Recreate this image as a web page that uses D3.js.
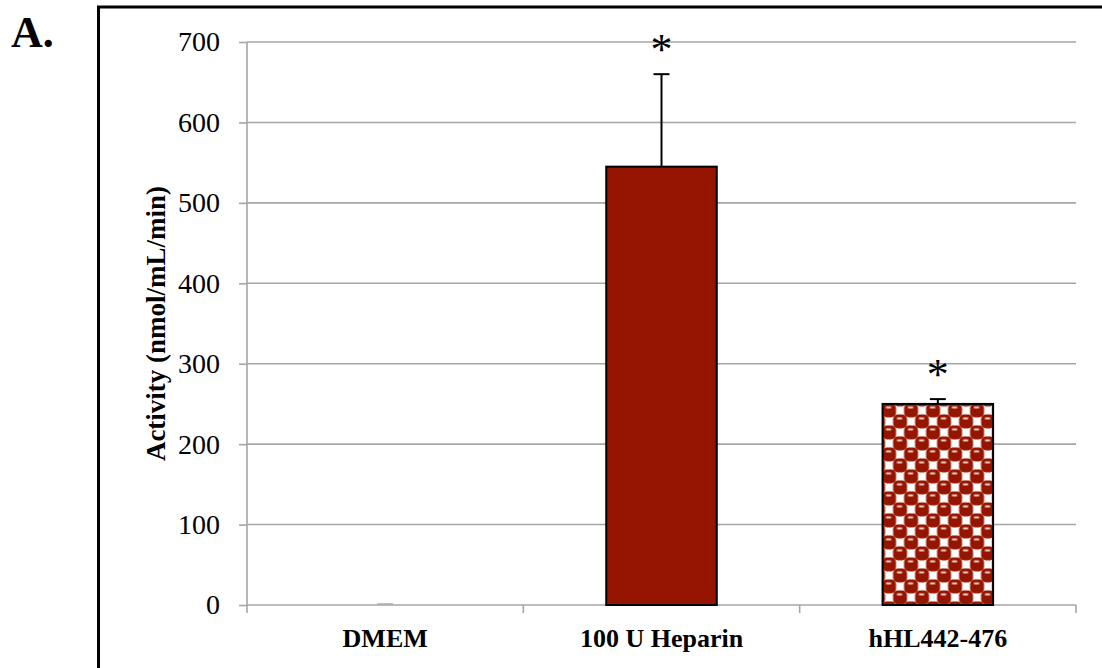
<!DOCTYPE html>
<html>
<head>
<meta charset="utf-8">
<script src="https://cdn.jsdelivr.net/npm/d3@7/dist/d3.min.js"></script>
<style>
  html, body { margin: 0; padding: 0; background: #fff; }
  svg { display: block; }
  text { font-family: 'Liberation Serif', 'Times New Roman', serif; }
</style>
</head>
<body>
<svg id="chart" width="1102" height="668"></svg>
<script>
// Lipase activity by treatment
const categories = ["DMEM", "100 U Heparin", "hHL442-476"];
const activity   = [0, 545, 250];        // nmol/mL/min
const errorUp    = [1, 115, 6];          // upper error bar
const significant = [false, true, true]; // asterisk markers
const yTicks     = [0, 100, 200, 300, 400, 500, 600, 700];
const fills      = ["#951500", "#951500", "url(#checker)"];

const svg = d3.select("#chart");
const margin = { left: 247, right: 1076, top: 42, bottom: 605 };

const x = d3.scaleBand()
  .domain(categories)
  .range([margin.left, margin.right])
  .paddingInner(0.6)
  .paddingOuter(0.3);

const y = d3.scaleLinear()
  .domain([0, 700])
  .range([margin.bottom, margin.top]);

// checkered ball fill for the peptide bar
const defs = svg.append("defs");
const pat = defs.append("pattern")
  .attr("id", "checker")
  .attr("patternUnits", "userSpaceOnUse")
  .attr("x", x("hHL442-476") + 1)
  .attr("y", y(250) + 1)
  .attr("width", 22).attr("height", 22);
pat.append("rect").attr("width", 22).attr("height", 22).attr("fill", "#fff");
[[0, 0], [11, 11], [22, 0], [0, 22], [-11, 11], [11, -11], [22, 22], [33, 11], [11, 33]].forEach(([cx, cy]) => {
  pat.append("rect")
    .attr("x", cx - 1.5).attr("y", cy - 1.5)
    .attr("width", 14).attr("height", 14)
    .attr("rx", 5)
    .attr("fill", "#951500");
  pat.append("rect")
    .attr("x", cx + 2.5).attr("y", cy + 1.5)
    .attr("width", 5).attr("height", 2)
    .attr("fill", "#f0d2ca");
});

// outer frame
svg.append("rect")
  .attr("x", 98.5).attr("y", 7)
  .attr("width", 1200).attr("height", 800)
  .attr("fill", "none")
  .attr("stroke", "#000")
  .attr("stroke-width", 3);

// panel letter
svg.append("text")
  .attr("x", 11).attr("y", 47)
  .attr("font-weight", "bold")
  .attr("font-size", 44)
  .text("A.");

// gridlines
svg.append("g")
  .selectAll("line")
  .data(yTicks.filter(t => t > 0))
  .join("line")
  .attr("x1", margin.left).attr("x2", margin.right)
  .attr("y1", d => y(d)).attr("y2", d => y(d))
  .attr("stroke", "#a6a6a6")
  .attr("stroke-width", 1.6);

// y axis
const yAxis = svg.append("g")
  .attr("transform", `translate(${margin.left},0)`)
  .call(d3.axisLeft(y).tickValues(yTicks).tickSize(8).tickPadding(19).tickFormat(d3.format("d")));
yAxis.select(".domain").attr("stroke", "#a6a6a6").attr("stroke-width", 1.6).attr("d", `M-0,${y(700)}V${y(0)}`);
yAxis.selectAll(".tick line").attr("stroke", "#a6a6a6").attr("stroke-width", 1.6);
yAxis.selectAll(".tick text")
  .attr("font-family", null)
  .attr("font-size", 28)
  .attr("fill", "#000");

// x axis with boundary ticks between categories
const xAxisG = svg.append("g");
xAxisG.append("line")
  .attr("x1", margin.left).attr("x2", margin.right)
  .attr("y1", y(0)).attr("y2", y(0))
  .attr("stroke", "#a6a6a6").attr("stroke-width", 1.6);
const bounds = d3.range(categories.length + 1).map(i => margin.left + i * (margin.right - margin.left) / categories.length);
xAxisG.selectAll("line.tk")
  .data(bounds)
  .join("line")
  .attr("class", "tk")
  .attr("x1", d => d).attr("x2", d => d)
  .attr("y1", y(0)).attr("y2", y(0) + 8)
  .attr("stroke", "#a6a6a6").attr("stroke-width", 1.6);

xAxisG.selectAll("text")
  .data(categories)
  .join("text")
  .attr("x", d => x(d) + x.bandwidth() / 2)
  .attr("y", 647)
  .attr("text-anchor", "middle")
  .attr("font-weight", "bold")
  .attr("font-size", 26)
  .text(d => d);

// y axis title
svg.append("text")
  .attr("transform", `translate(165,${(y(0) + y(700)) / 2}) rotate(-90)`)
  .attr("text-anchor", "middle")
  .attr("font-weight", "bold")
  .attr("font-size", 27)
  .text("Activity (nmol/mL/min)");

// bars
const rows = categories.map((c, i) => ({ c, v: activity[i], e: errorUp[i], sig: significant[i], fill: fills[i] }));

svg.append("g")
  .selectAll("rect")
  .data(rows.filter(d => d.v > 0))
  .join("rect")
  .attr("x", d => x(d.c))
  .attr("y", d => y(d.v))
  .attr("width", x.bandwidth())
  .attr("height", d => y(0) - y(d.v))
  .attr("fill", d => d.fill)
  .attr("stroke", "#000")
  .attr("stroke-width", 2);

// error bars (upper)
const eb = svg.append("g").attr("stroke", "#000").attr("stroke-width", 2);
eb.selectAll("line.stem")
  .data(rows)
  .join("line")
  .attr("class", "stem")
  .attr("x1", d => x(d.c) + x.bandwidth() / 2)
  .attr("x2", d => x(d.c) + x.bandwidth() / 2)
  .attr("y1", d => y(d.v))
  .attr("y2", d => y(d.v + d.e));
eb.selectAll("line.cap")
  .data(rows)
  .join("line")
  .attr("class", "cap")
  .attr("x1", d => x(d.c) + x.bandwidth() / 2 - 8)
  .attr("x2", d => x(d.c) + x.bandwidth() / 2 + 8)
  .attr("y1", d => y(d.v + d.e))
  .attr("y2", d => y(d.v + d.e))
  .attr("stroke", d => d.v > 0 ? "#000" : "#b0b0b0");

// significance asterisks
svg.append("g")
  .selectAll("text")
  .data(rows.filter(d => d.sig))
  .join("text")
  .attr("x", d => x(d.c) + x.bandwidth() / 2)
  .attr("y", d => y(d.v + d.e) - 30 + 20)
  .attr("text-anchor", "middle")
  .attr("font-size", 44)
  .text("*");
</script>
</body>
</html>
